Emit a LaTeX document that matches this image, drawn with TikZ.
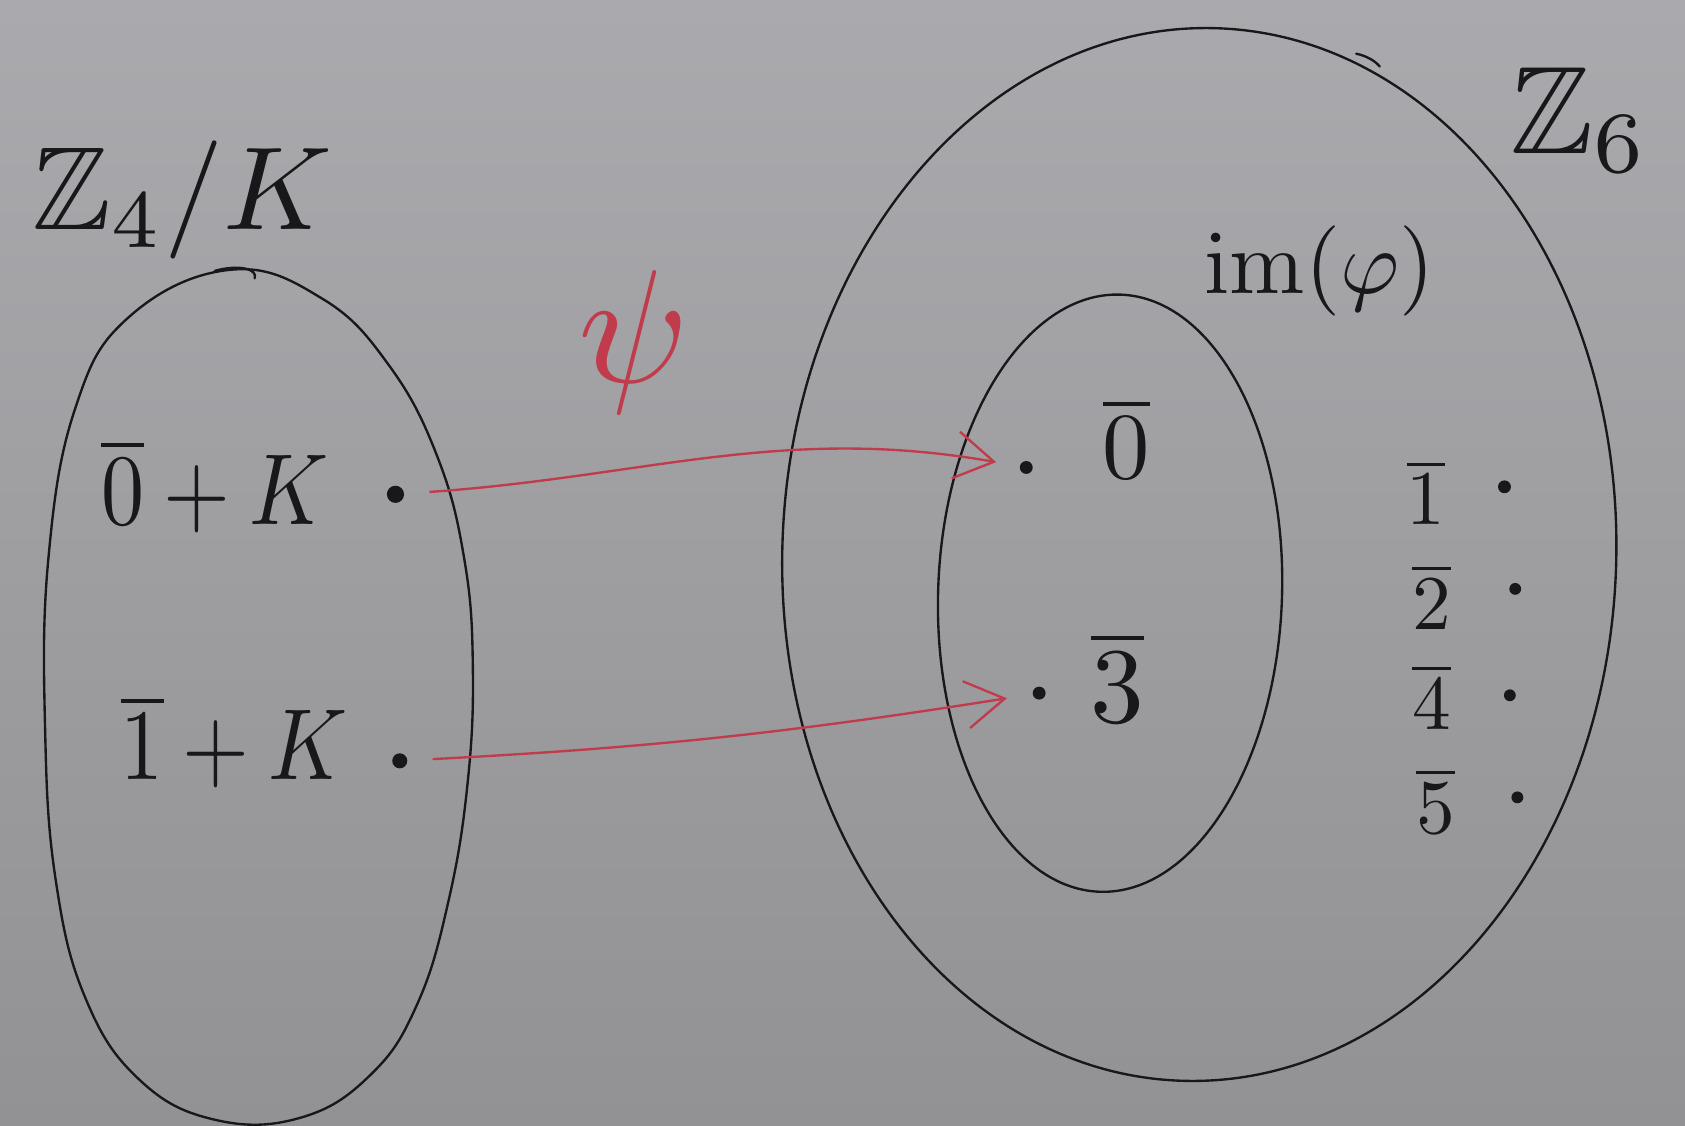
\documentclass[tikz,border=0pt]{standalone}
\usepackage{amssymb}
\usetikzlibrary{arrows.meta}
\definecolor{boardtop}{RGB}{170,170,174}
\definecolor{boardbottom}{RGB}{146,146,148}
\definecolor{marker}{RGB}{24,24,26}
\definecolor{redmarker}{RGB}{192,60,76}
\tikzset{
  stroke/.style={draw=marker, line width=1.1pt, line join=round, line cap=round},
  hand/.style={text=marker, inner sep=0pt},
  spot/.style={circle, fill=marker, inner sep=0pt, minimum size=#1},
  maparrow/.style={draw=redmarker, line width=1.1pt, line cap=round,
    -{Straight Barb[length=18pt,width=22pt,line width=1.1pt]}}
}
\begin{document}
\begin{tikzpicture}[x=0.5pt,y=-0.5pt]
% whiteboard
\shade[top color=boardtop,bottom color=boardbottom] (0,0) rectangle (1568,1047);
\useasboundingbox (0,0) rectangle (1568,1047);

% the quotient group Z4/K
\draw[stroke] plot[smooth cycle, tension=0.7] coordinates {
  (215,251) (300,278) (362,340) (407,425) (432,520) (440,620) (435,730)
  (417,840) (388,935) (345,1000) (280,1040) (200,1042) (130,1005)
  (80,930) (52,820) (42,680) (45,520) (70,380) (120,295) };
\draw[stroke] (200,252) .. controls (222,246) and (240,250) .. (237,259);
\node[hand, scale=5.5] (zk) at (170,186) {$\mathbb{Z}_4/K$};

% Z6 and the image of phi
\draw[stroke, rotate around={-2:(1116,516)}] (1116,516) ellipse [x radius=194pt, y radius=245pt];
\draw[stroke] (1262,50) .. controls (1272,52) and (1280,57) .. (1284,62);
\node[hand, scale=5.8] (z6) at (1470,112) {$\mathbb{Z}_6$};

\draw[stroke, rotate around={-2:(1033,552)}] (1033,552) ellipse [x radius=80pt, y radius=139pt];
\node[hand, scale=4.2] (im) at (1228,252) {$\mathrm{im}(\varphi)$};

% cosets on the left
\node[hand, xscale=4, yscale=4.7] (c0) at (200,452) {$\overline{0}+K$};
\node[hand, xscale=4, yscale=4.7] (c1) at (218,690) {$\overline{1}+K$};
\node[spot=8pt] (d0) at (368,460) {};
\node[spot=7pt] (d1) at (372,708) {};

% elements of the image
\node[spot=6pt] (i0) at (955,435) {};
\node[spot=6pt] (i3) at (967,645) {};
\node[hand, scale=4.4] (n0) at (1048,408) {$\overline{0}$};
\node[hand, scale=5] (n3) at (1040,630) {$\overline{3}$};

% remaining elements of Z6
\node[hand, scale=3.6] (n1) at (1327,458) {$\overline{1}$};
\node[hand, scale=3.6] (n2) at (1332,555) {$\overline{2}$};
\node[hand, scale=3.6] (n4) at (1332,648) {$\overline{4}$};
\node[hand, scale=3.6] (n5) at (1336,745) {$\overline{5}$};
\node[spot=6pt] (e1) at (1400,453) {};
\node[spot=5.5pt] (e2) at (1410,548) {};
\node[spot=5.5pt] (e4) at (1405,647) {};
\node[spot=5.5pt] (e5) at (1412,742) {};

% the map psi
\node[text=redmarker, inner sep=0pt, scale=7.5] (psi) at (590,318) {$\psi$};
\draw[maparrow, shorten <=12pt, shorten >=11pt] (d0) to[out=4, in=170] (i0);
\draw[maparrow, shorten <=12pt, shorten >=12pt] (d1) to[out=3, in=189] (i3);
\end{tikzpicture}
\end{document}
